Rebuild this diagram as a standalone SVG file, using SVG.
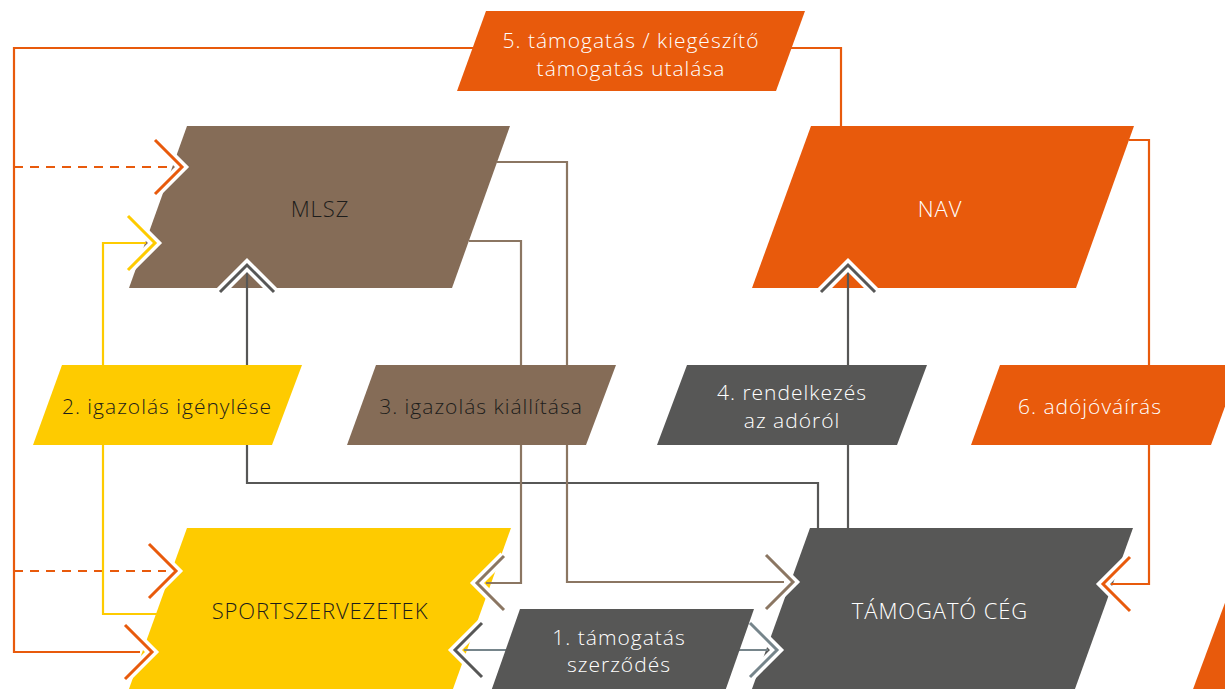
<svg xmlns="http://www.w3.org/2000/svg" width="1225" height="689" viewBox="0 0 1225 689">
<style>
.t{font-family:"Open Sans","Noto Sans","Liberation Sans",sans-serif;font-weight:300;text-anchor:middle}
.big{font-size:22px;letter-spacing:0.9px}
.lbl{font-size:21px;letter-spacing:1px}
.w{fill:#ffffff}
.d{fill:#1d1d1b}
.ln{fill:none;stroke-width:2.2}
.halo{fill:none;stroke:#ffffff;stroke-width:10;stroke-linejoin:miter}
.chev{fill:none;stroke-width:3;stroke-linejoin:miter}
.or{stroke:#E85A0C}
.br{stroke:#8B7662}
.gr{stroke:#575756}
.ye{stroke:#FECB00}
.bg{stroke:#76858B}
.dash{stroke-dasharray:9 7}
</style>
<rect width="1225" height="689" fill="#ffffff"/>
<g id="MLSZ">
<polygon points="187,126 510,126 452,288 129,288" fill="#856C57"/>
<text class="t big d" x="320" y="217">MLSZ</text>
</g>
<g id="NAV">
<polygon points="811,126 1134,126 1076,288 752,288" fill="#E85A0C"/>
<text class="t big w" x="940" y="217">NAV</text>
</g>
<g id="SPORTSZERVEZETEK">
<polygon points="187,528 511,528 449,700 125,700" fill="#FECB00"/>
<text class="t big d" x="320" y="619">SPORTSZERVEZETEK</text>
</g>
<g id="TAMOGATO_CEG">
<polygon points="810,528 1133,528 1071,700 748,700" fill="#575756"/>
<text class="t big w" x="940" y="619">TÁMOGATÓ CÉG</text>
</g>
<g id="corner">
<polygon points="1226,600 1226,700 1189,700" fill="#E85A0C"/>
</g>
<g id="connectors">
<path class="ln or" d="M841,126 V48 H14 V652 H140"/>
<path class="ln or dash" d="M14,167 H172"/>
<path class="ln or dash" d="M14,571 H166"/>
<path class="ln ye" d="M146,243 H103 V614 H157"/>
<path class="ln gr" d="M247,272 V483 H818 V528"/>
<path class="ln br" d="M497,162 H567 V582 H784"/>
<path class="ln br" d="M469,241 H521 V583 H486"/>
<path class="ln bg" d="M464,650 H768"/>
<path class="ln gr" d="M848,272 V528"/>
<path class="ln or" d="M1129,140 H1149 V584 H1111"/>
<polyline class="halo" points="155,140 182,167 155,194"/>
<polyline class="chev or" points="155,140 182,167 155,194"/>
<polyline class="halo" points="128,216 155,243 128,270"/>
<polyline class="chev ye" points="128,216 155,243 128,270"/>
<polyline class="halo" points="220,292 247,265 274,292"/>
<polyline class="chev gr" points="220,292 247,265 274,292"/>
<polyline class="halo" points="149,544 176,571 149,598"/>
<polyline class="chev or" points="149,544 176,571 149,598"/>
<polyline class="halo" points="125,625 152,652 125,679"/>
<polyline class="chev or" points="125,625 152,652 125,679"/>
<polyline class="halo" points="504,556 477,583 504,610"/>
<polyline class="chev br" points="504,556 477,583 504,610"/>
<polyline class="halo" points="482,623 455,650 482,677"/>
<polyline class="chev gr" points="482,623 455,650 482,677"/>
<polyline class="halo" points="766,555 793,582 766,609"/>
<polyline class="chev br" points="766,555 793,582 766,609"/>
<polyline class="halo" points="750,623 777,650 750,677"/>
<polyline class="chev bg" points="750,623 777,650 750,677"/>
<polyline class="halo" points="1130,557 1103,584 1130,611"/>
<polyline class="chev or" points="1130,557 1103,584 1130,611"/>
<polyline class="halo" points="821,292 848,265 875,292"/>
<polyline class="chev gr" points="821,292 848,265 875,292"/>
</g>
<g id="label5">
<polygon points="486,11 805,11 776,91 457,91" fill="#E85A0C"/>
<text class="t lbl w" x="631" y="48">5. támogatás / kiegészítő</text>
<text class="t lbl w" x="631" y="76">támogatás utalása</text>
</g>
<g id="label2">
<polygon points="62,365 302,365 272,445 33,445" fill="#FECB00"/>
<text class="t lbl d" x="167" y="414">2. igazolás igénylése</text>
</g>
<g id="label3">
<polygon points="376,365 616,365 586,445 347,445" fill="#856C57"/>
<text class="t lbl d" x="481" y="414">3. igazolás kiállítása</text>
</g>
<g id="label4">
<polygon points="687,365 927,365 897,445 657,445" fill="#575756"/>
<text class="t lbl w" x="792" y="400">4. rendelkezés</text>
<text class="t lbl w" x="792" y="428">az adóról</text>
</g>
<g id="label6">
<polygon points="1000,365 1240,365 1211,445 971,445" fill="#E85A0C"/>
<text class="t lbl w" x="1090" y="414">6. adójóváírás</text>
</g>
<g id="label1">
<polygon points="520,609 754,609 722,700 488,700" fill="#575756"/>
<text class="t lbl w" x="619" y="645">1. támogatás</text>
<text class="t lbl w" x="619" y="672">szerződés</text>
</g>
</svg>
